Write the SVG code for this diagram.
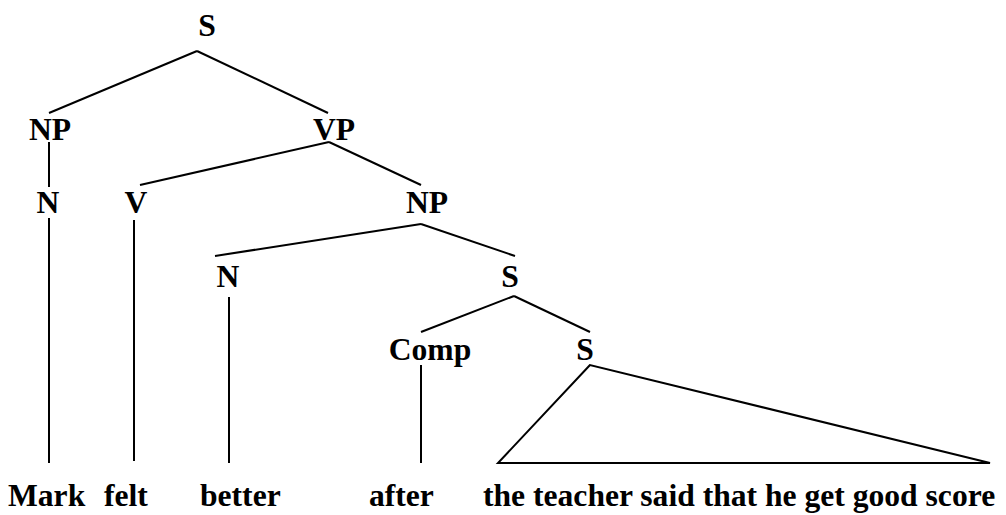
<svg xmlns="http://www.w3.org/2000/svg" width="1006" height="515" viewBox="0 0 1006 515">
  <style>
    text { font-family: "Liberation Serif", "Times New Roman", Times, "DejaVu Serif", serif; font-weight: 700; font-size: 31.6px; fill: #000; }
    .mid { text-anchor: middle; }
    .edge { stroke: #000; stroke-width: 2; fill: none; stroke-linecap: butt; }
  </style>
  <rect width="1006" height="515" fill="#fff"/>

  <!-- tree branches -->
  <g id="connectors">
    <line class="edge" x1="197" y1="51" x2="49" y2="113"/>
    <line class="edge" x1="197" y1="51" x2="328" y2="113"/>
    <line class="edge" x1="49" y1="142" x2="49" y2="187"/>
    <line class="edge" x1="329" y1="142" x2="140" y2="185"/>
    <line class="edge" x1="329" y1="142" x2="421" y2="185"/>
    <line class="edge" x1="421" y1="224" x2="215" y2="256"/>
    <line class="edge" x1="421" y1="224" x2="515" y2="256"/>
    <line class="edge" x1="514" y1="296" x2="421" y2="332"/>
    <line class="edge" x1="514" y1="296" x2="590" y2="332"/>
    <line class="edge" x1="49" y1="218" x2="49" y2="463"/>
    <line class="edge" x1="134" y1="220" x2="134" y2="461"/>
    <line class="edge" x1="229" y1="297" x2="229" y2="463"/>
    <line class="edge" x1="421" y1="365" x2="421" y2="463"/>
    <polygon class="edge" points="590,365 498,463 990,463"/>
  </g>

  <!-- category labels -->
  <g id="s-root"><text class="mid" x="207" y="36">S</text></g>
  <g id="np-subject"><text class="mid" x="50" y="140">NP</text></g>
  <g id="vp"><text class="mid" x="334" y="140">VP</text></g>
  <g id="n-subject"><text class="mid" x="48" y="213">N</text></g>
  <g id="v"><text class="mid" x="136" y="213">V</text></g>
  <g id="np-object"><text class="mid" x="427" y="213">NP</text></g>
  <g id="n-object"><text class="mid" x="228" y="287">N</text></g>
  <g id="s-clause"><text class="mid" x="510" y="287">S</text></g>
  <g id="comp"><text class="mid" x="430" y="360">Comp</text></g>
  <g id="s-embedded"><text class="mid" x="585" y="360">S</text></g>

  <!-- terminal words -->
  <g id="w-mark"><text x="8" y="506">Mark</text></g>
  <g id="w-felt"><text x="104" y="506">felt</text></g>
  <g id="w-better"><text x="200" y="506">better</text></g>
  <g id="w-after"><text x="369" y="506">after</text></g>
  <g id="w-clause"><text x="483" y="506">the teacher said that he get good score</text></g>
</svg>
